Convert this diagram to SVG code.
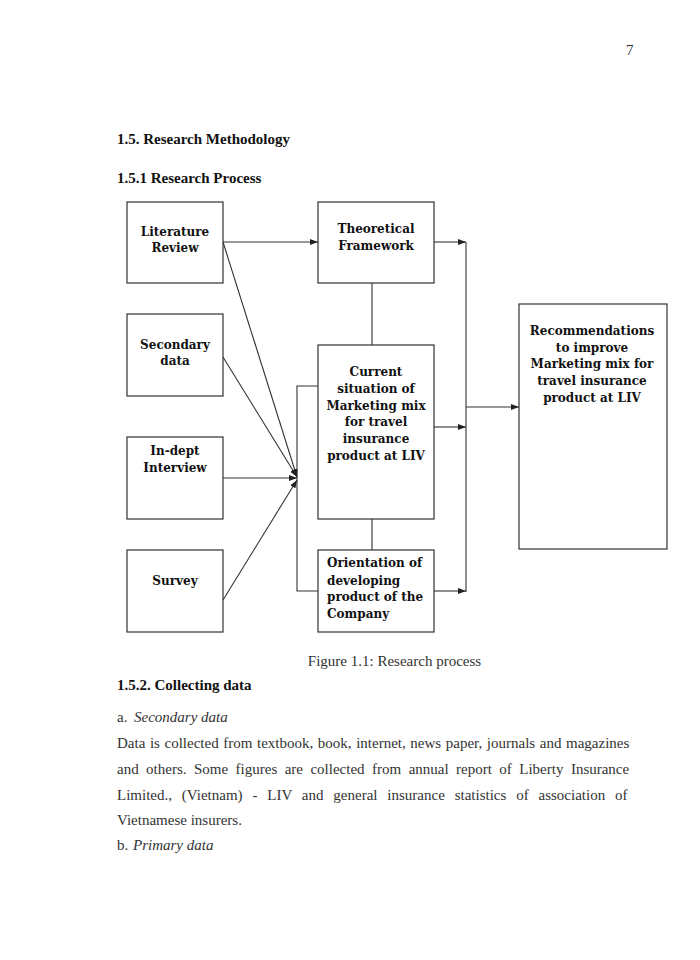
<svg xmlns="http://www.w3.org/2000/svg" width="700" height="960" viewBox="0 0 700 960">
<defs>
<marker id="arr" markerUnits="userSpaceOnUse" markerWidth="9" markerHeight="7" refX="8" refY="3" orient="auto">
<path d="M0,0 L8,3 L0,6 z" fill="#222"/>
</marker>
<style>
.box{fill:#fff;stroke:#333;stroke-width:1.2}
.bt{font-family:"DejaVu Serif",serif;font-weight:bold;font-size:12px;fill:#111;text-anchor:middle}
.bl{font-family:"DejaVu Serif",serif;font-weight:bold;font-size:12px;fill:#111}
.ln{fill:none;stroke:#333;stroke-width:1.1}
.h{font-family:"Liberation Serif","Times New Roman",serif;font-weight:bold;font-size:15px;fill:#111}
.p{font-family:"Liberation Serif","Times New Roman",serif;font-size:15px;fill:#333}
.i{font-style:italic}
</style>
</defs>
<rect width="700" height="960" fill="#fff"/>

<text class="p" x="626" y="55">7</text>
<text class="h" x="117" y="144">1.5. Research Methodology</text>
<text class="h" x="117" y="183">1.5.1 Research Process</text>

<g id="connectors">
<line class="ln" x1="223" y1="242" x2="318" y2="242" marker-end="url(#arr)"/>
<line class="ln" x1="434" y1="242" x2="466" y2="242" marker-end="url(#arr)"/>
<line class="ln" x1="434" y1="427" x2="466" y2="427" marker-end="url(#arr)"/>
<line class="ln" x1="434" y1="591" x2="466" y2="591" marker-end="url(#arr)"/>
<line class="ln" x1="466" y1="242" x2="466" y2="592"/>
<line class="ln" x1="466" y1="407" x2="519" y2="407" marker-end="url(#arr)"/>
<line class="ln" x1="372" y1="283" x2="372" y2="345"/>
<line class="ln" x1="372" y1="519" x2="372" y2="550"/>
<polyline class="ln" points="318,386 297,386 297,591 318,591"/>
<line class="ln" x1="223" y1="242" x2="297" y2="477" marker-end="url(#arr)"/>
<line class="ln" x1="223" y1="357" x2="297" y2="477" marker-end="url(#arr)"/>
<line class="ln" x1="223" y1="478" x2="297" y2="478" marker-end="url(#arr)"/>
<line class="ln" x1="223" y1="600" x2="297" y2="480" marker-end="url(#arr)"/>
</g>

<g id="literature">
<rect class="box" x="127" y="202" width="96" height="81"/>
<text class="bt" x="175" y="236">Literature</text>
<text class="bt" x="175" y="252">Review</text>
</g>
<g id="secondary">
<rect class="box" x="127" y="314" width="96" height="82"/>
<text class="bt" x="175" y="349">Secondary</text>
<text class="bt" x="175" y="365">data</text>
</g>
<g id="indept">
<rect class="box" x="127" y="437" width="96" height="82"/>
<text class="bt" x="175" y="455">In-dept</text>
<text class="bt" x="175" y="472">Interview</text>
</g>
<g id="survey">
<rect class="box" x="127" y="550" width="96" height="82"/>
<text class="bt" x="175" y="585">Survey</text>
</g>
<g id="theoretical">
<rect class="box" x="318" y="202" width="116" height="81"/>
<text class="bt" x="376" y="233">Theoretical</text>
<text class="bt" x="376" y="250">Framework</text>
</g>
<g id="current">
<rect class="box" x="318" y="345" width="116" height="174"/>
<text class="bt" x="376" y="376">Current</text>
<text class="bt" x="376" y="393">situation of</text>
<text class="bt" x="376" y="410">Marketing mix</text>
<text class="bt" x="376" y="426">for travel</text>
<text class="bt" x="376" y="443">insurance</text>
<text class="bt" x="376" y="460">product at LIV</text>
</g>
<g id="orientation">
<rect class="box" x="318" y="550" width="116" height="82"/>
<text class="bl" x="327" y="567">Orientation of</text>
<text class="bl" x="327" y="585">developing</text>
<text class="bl" x="327" y="601">product of the</text>
<text class="bl" x="327" y="618">Company</text>
</g>
<g id="recommendations">
<rect class="box" x="519" y="304" width="148" height="245"/>
<text class="bt" x="592" y="335">Recommendations</text>
<text class="bt" x="592" y="352">to improve</text>
<text class="bt" x="592" y="368">Marketing mix for</text>
<text class="bt" x="592" y="385">travel insurance</text>
<text class="bt" x="592" y="402">product at LIV</text>
</g>

<text class="p" x="394.5" y="666" text-anchor="middle">Figure 1.1: Research process</text>
<text class="h" x="117" y="690">1.5.2. Collecting data</text>
<text class="p" y="722"><tspan x="117">a.</tspan><tspan x="134" class="i">Secondary data</tspan></text>
<text class="p" x="117" y="748" word-spacing="0.85">Data is collected from textbook, book, internet, news paper, journals and magazines</text>
<text class="p" x="117" y="774" word-spacing="3.7">and others. Some figures are collected from annual report of Liberty Insurance</text>
<text class="p" x="117" y="800" word-spacing="6.1">Limited., (Vietnam) - LIV and general insurance statistics of association of</text>
<text class="p" x="117" y="825">Vietnamese insurers.</text>
<text class="p" y="850"><tspan x="117">b.</tspan><tspan x="133" class="i">Primary data</tspan></text>
</svg>
